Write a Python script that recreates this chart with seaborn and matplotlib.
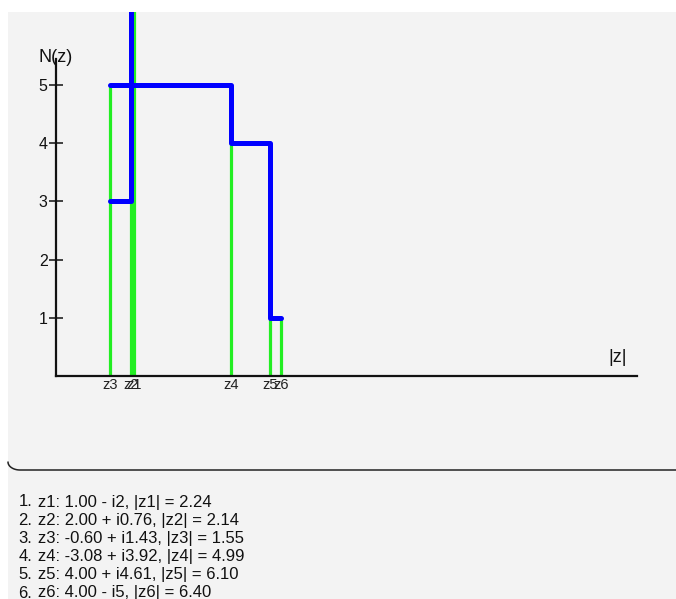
import numpy as np
import pandas as pd
import matplotlib
matplotlib.use("Agg")
import matplotlib.pyplot as plt
import seaborn as sns

# roots and their moduli
labels = ["z1", "z2", "z3", "z4", "z5", "z6"]
moduli = [2.24, 2.14, 1.55, 4.99, 6.10, 6.40]
descr = ["z1: 1.00 - i2, |z1| = 2.24",
         "z2: 2.00 + i0.76, |z2| = 2.14",
         "z3: -0.60 + i1.43, |z3| = 1.55",
         "z4: -3.08 + i3.92, |z4| = 4.99",
         "z5: 4.00 + i4.61, |z5| = 6.10",
         "z6: 4.00 - i5, |z6| = 6.40"]
# green stems: height at each root
stem_h = [7, 3, 5, 4, 1, 1]
# blue N(z) path, two pieces
path_seg = [0, 0, 0, 1, 1, 1, 1, 1, 1]
path_x = [2.14, 2.14, 1.55, 1.55, 4.99, 4.99, 6.10, 6.10, 6.40]
path_y = [7, 3, 3, 5, 5, 4, 4, 1, 1]
yticks = [1, 2, 3, 4, 5]

sns.set_theme(style="white")
plt.rcParams["font.family"] = ["Liberation Sans", "DejaVu Sans"]

W, H = 676, 599
fig = plt.figure(figsize=(W / 100, H / 100), dpi=100)
fig.patch.set_facecolor("white")

# page background / card decorations in pixel coords
bg = fig.add_axes([0, 0, 1, 1], zorder=0)
bg.set_xlim(0, W)
bg.set_ylim(H, 0)
bg.axis("off")
bg.add_patch(plt.Rectangle((8, 12), W, H, color="#f3f3f3", lw=0))
t = np.linspace(0, np.pi / 2, 20)
cx = list(20 - 12 * np.cos(t)) + [W]
cy = list(462 + 8 * np.sin(t)) + [470]
bg.plot(cx, cy, color="#222222", lw=1.1)
for i, s in enumerate(descr):
    y = 502 + i * 18.2
    bg.text(32, y, f"{i + 1}.", ha="right", va="center", fontsize=12, color="#111111")
    bg.text(38, y, s, ha="left", va="center", fontsize=12, color="#111111")

# main plot
px0, py0, sx, sy = 55.5, 376, 35.2, 58.2
right, top = 640, 12
ax = fig.add_axes([px0 / W, (H - py0) / H, (right - px0) / W, (py0 - top) / H], zorder=1)
ax.set_facecolor("none")
ax.set_xlim(0, (right - px0) / sx)
ax.set_ylim(0, (py0 - top) / sy)

ax.vlines(moduli, 0, stem_h, color="#22ee22", lw=2.3, zorder=2)
df = pd.DataFrame({"seg": path_seg, "x": path_x, "y": path_y})
sns.lineplot(data=df, x="x", y="y", units="seg", estimator=None, sort=False,
             color="#0000ff", lw=3.6, ax=ax, zorder=3)

for side in ["top", "right"]:
    ax.spines[side].set_visible(False)
for side in ["left", "bottom"]:
    ax.spines[side].set_color("#111111")
    ax.spines[side].set_linewidth(1.6)
ax.spines["left"].set_bounds(0, (py0 - 59) / sy)
ax.spines["bottom"].set_bounds(0, (637 - px0) / sx)

ax.set_yticks(yticks)
ax.set_yticklabels([str(v) for v in yticks], fontsize=11.5, color="#111111")
ax.tick_params(axis="y", direction="inout", length=9.5, width=1.1, color="#111111", pad=1, left=True)
ax.set_xticks(moduli)
ax.set_xticklabels(labels, fontsize=10.5, color="#222222")
ax.tick_params(axis="x", length=0, pad=1.5)

ax.set_ylabel("N(z)", rotation=0, fontsize=13, color="#111111", ha="center", va="center")
ax.yaxis.set_label_coords(0.0, (py0 - 57) / (py0 - top))
ax.set_xlabel("|z|", fontsize=13, color="#111111", ha="center", va="center")
ax.xaxis.set_label_coords((618 - px0) / (right - px0), (py0 - 357) / (py0 - top))

fig.savefig("out.png", dpi=100, facecolor="white")
